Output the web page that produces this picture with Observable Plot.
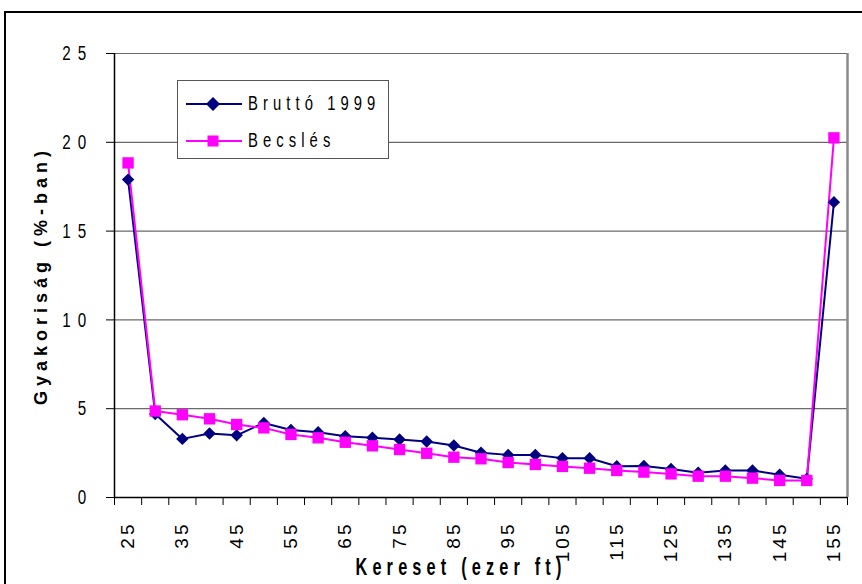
<!DOCTYPE html>
<html>
<head>
<meta charset="utf-8">
<script src="https://cdn.jsdelivr.net/npm/d3@7"></script>
<script src="https://cdn.jsdelivr.net/npm/@observablehq/plot@0.6"></script>
<style>
  html, body { margin: 0; padding: 0; background: #fff; overflow: hidden; width: 862px; height: 584px; }
  #wrap { position: relative; width: 862px; height: 584px; }
  #frame { position: absolute; left: 4px; top: 11px; width: 900px; height: 620px; border: 2px solid #000; box-sizing: border-box; pointer-events: none; }
  #legend { position: absolute; left: 177px; top: 80px; width: 212px; height: 79px; background: #fff; border: 1.5px solid #555; box-sizing: border-box; font-family: "Liberation Sans", Arial, sans-serif; font-size: 19px; color: #000; }
  .item { position: absolute; left: 8px; height: 20px; display: flex; align-items: center; white-space: nowrap; }
  .item svg { margin-right: 6px; flex: none; }
  .item span { display: inline-block; letter-spacing: 6.5px; transform: scale(0.78, 1.08); transform-origin: left center; }
  #xtitle { position: absolute; left: 261px; width: 400px; top: 554px; text-align: center; font-family: "Liberation Sans", Arial, sans-serif; font-weight: bold; font-size: 22px; letter-spacing: 7px; white-space: nowrap; transform: scale(0.74, 1.12); transform-origin: center center; }
</style>
</head>
<body>
<div id="wrap">
  <div id="chart"></div>
  <div id="legend"></div>
  <div id="xtitle"></div>
  <div id="frame"></div>
</div>
<script>
// Data
const kereset = [25,30,35,40,45,50,55,60,65,70,75,80,85,90,95,100,105,110,115,120,125,130,135,140,145,150,155];
const brutto1999 = [17.9,4.7,3.3,3.6,3.5,4.2,3.8,3.68,3.45,3.37,3.27,3.15,2.93,2.52,2.4,2.4,2.21,2.21,1.76,1.78,1.61,1.39,1.52,1.52,1.28,1.05,16.63];
const becsles = [18.84,4.87,4.66,4.43,4.11,3.92,3.55,3.36,3.11,2.91,2.7,2.49,2.27,2.18,1.97,1.86,1.75,1.65,1.52,1.43,1.33,1.2,1.2,1.09,0.96,0.96,20.25];
const seriesNames = ["Bruttó 1999", "Becslés"];
const seriesColors = ["#000080", "#FF00FF"];
const xTickLabels = [25,35,45,55,65,75,85,95,105,115,125,135,145,155];
const xBoundaries = [22.5,27.5,32.5,37.5,42.5,47.5,52.5,57.5,62.5,67.5,72.5,77.5,82.5,87.5,92.5,97.5,102.5,107.5,112.5,117.5,122.5,127.5,132.5,137.5,142.5,147.5,152.5,157.5];
const yTicks = [0,5,10,15,20,25];
const xTitle = "Kereset (ezer ft)";
const yTitle = "Gyakoriság (%-ban)";

const rows = kereset.flatMap((k, i) => [
  {k, v: brutto1999[i], s: seriesNames[0]},
  {k, v: becsles[i], s: seriesNames[1]}
]);
const b = rows.filter(d => d.s === seriesNames[0]);
const e = rows.filter(d => d.s === seriesNames[1]);

const chart = Plot.plot({
  width: 862,
  height: 584,
  marginLeft: 114,
  marginRight: 15,
  marginTop: 53,
  marginBottom: 87,
  style: {background: "transparent", fontFamily: '"Liberation Sans", Arial, sans-serif', color: "#000"},
  x: {type: "linear", domain: [22.5, 157.5]},
  y: {domain: [0, 25]},
  marks: [
    Plot.gridY(yTicks.filter(t => t > 0), {stroke: "#6a6a6a", strokeOpacity: 1, strokeWidth: 1.2}),
    Plot.ruleX([157.5], {stroke: "#8a8a8a", strokeWidth: 2.5}),
    Plot.axisY({ticks: yTicks, tickSize: 8, tickPadding: 13, tickFormat: d => String(d),
      fontSize: 19, label: yTitle, labelAnchor: "center", labelArrow: "none",
      labelOffset: 80}),
    Plot.axisX({ticks: xBoundaries, tickSize: 8, tickFormat: () => "", label: null}),
    Plot.axisX({ticks: xTickLabels, tickSize: 0, tickPadding: 24, tickRotate: -90, fontSize: 19, label: null, tickFormat: d => String(d)}),
    Plot.ruleX([22.5], {stroke: "#000", strokeWidth: 1.5}),
    Plot.ruleY([0], {stroke: "#000", strokeWidth: 1.5}),
    Plot.line(b, {x: "k", y: "v", stroke: seriesColors[0], strokeWidth: 2}),
    Plot.line(e, {x: "k", y: "v", stroke: seriesColors[1], strokeWidth: 2}),
    Plot.dot(b, {x: "k", y: "v", symbol: "diamond2", r: 5.6, fill: seriesColors[0], stroke: "none"}),
    Plot.dot(e, {x: "k", y: "v", symbol: "square", r: 6.4, fill: seriesColors[1], stroke: "none"})
  ]
});
document.getElementById("chart").appendChild(chart);

const svg = d3.select(chart);
// y-axis title: bold, spaced
svg.selectAll("[aria-label='y-axis label'] text, [aria-label='y-axis label']")
  .attr("font-weight", "bold").attr("font-size", 18).attr("letter-spacing", 5);
// y tick labels: narrow, tall digits with spacing
svg.selectAll("[aria-label='y-axis tick label'] text").each(function() {
  const t = d3.select(this);
  t.attr("letter-spacing", 9).attr("transform", (t.attr("transform") || "") + " scale(0.8,1.1)");
});
svg.selectAll("[aria-label='x-axis tick label'] text").attr("letter-spacing", 3);

document.getElementById("xtitle").textContent = xTitle;

// legend
const leg = document.getElementById("legend");
seriesNames.forEach((name, i) => {
  const it = document.createElement("div");
  it.className = "item";
  it.style.top = (i === 0 ? 13 : 50) + "px";
  const sym = i === 0
    ? `<polygon points="27,3 34,10 27,17 20,10" fill="${seriesColors[i]}"/>`
    : `<rect x="21.5" y="4.5" width="11" height="11" fill="${seriesColors[i]}"/>`;
  it.innerHTML = `<svg width="56" height="20"><line x1="0" x2="56" y1="10" y2="10" stroke="${seriesColors[i]}" stroke-width="2"/>${sym}</svg><span>${name}</span>`;
  leg.appendChild(it);
});
</script>
</body>
</html>
